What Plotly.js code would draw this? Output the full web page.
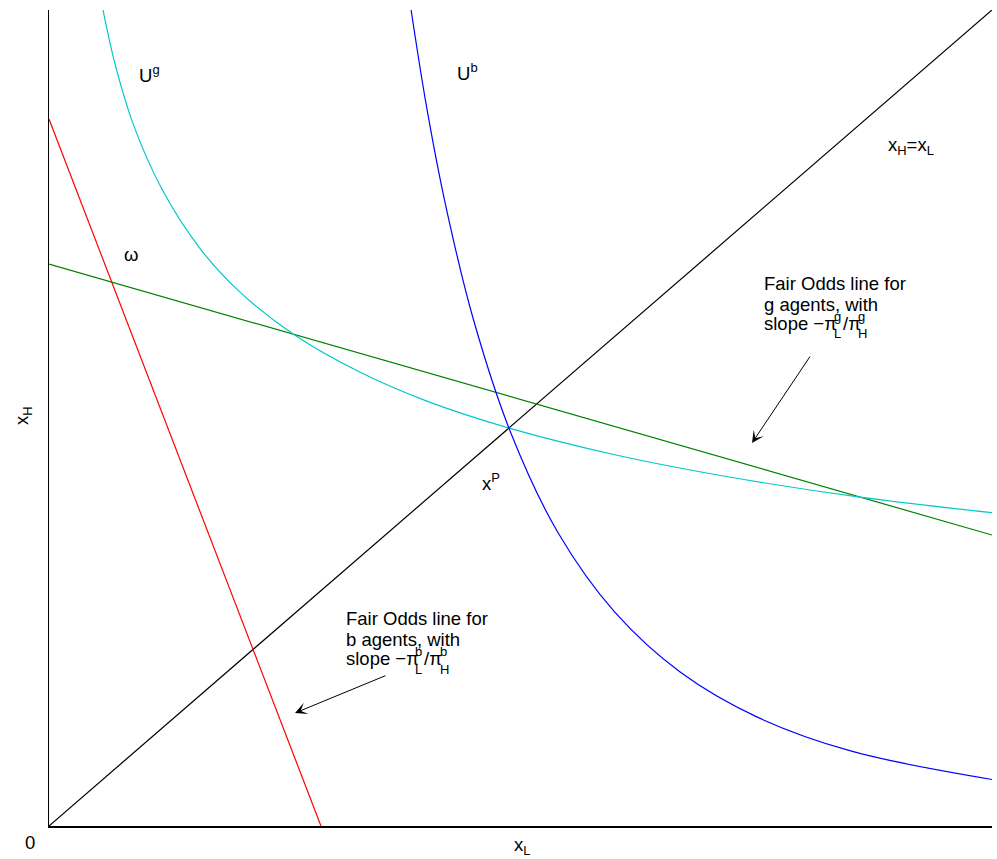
<!DOCTYPE html>
<html>
<head>
<meta charset="utf-8">
<script src="https://cdn.plot.ly/plotly-3.0.1.min.js"></script>
<style>html,body{margin:0;padding:0;background:#fff;}#chart{width:997px;height:859px;}</style>
</head>
<body>
<div id="chart"></div>
<script>
// ---- data (x_L on x, x_H on y, both 0..1) ----
var diagX = [0, 1];
var diagY = [0, 1];

var redX = [0, 0.2884];            // fair odds line for b agents
var redY = [0.8664, 0];

var greenX = [0, 1];               // fair odds line for g agents
var greenY = [0.6887, 0.3566];

var cyanX = [0.0573, 0.07, 0.09, 0.12, 0.16, 0.20, 0.26, 0.33, 0.40, 0.49, 0.60, 0.72, 0.86, 1.00];   // U^g
var cyanY = [1.000, 0.934, 0.858, 0.780, 0.708, 0.657, 0.602, 0.556, 0.521, 0.487, 0.455, 0.428, 0.403, 0.384];

var blueX = [0.384, 0.40, 0.42, 0.45, 0.49, 0.54, 0.60, 0.67, 0.75, 0.85, 1.00];   // U^b
var blueY = [1.000, 0.884, 0.764, 0.621, 0.481, 0.359, 0.262, 0.188, 0.134, 0.092, 0.057];

var FONT = '"Liberation Sans", Arial, Helvetica, sans-serif';
var FS = 18.5;
var FSS = 13;

function line(x, y, color) {
  return {x: x, y: y, type: 'scatter', mode: 'lines', hoverinfo: 'skip',
          line: {color: color, width: 1.2}, showlegend: false};
}
function curve(x, y, color) {
  return {x: x, y: y, type: 'scatter', mode: 'lines', hoverinfo: 'skip',
          line: {color: color, width: 1.2, shape: 'spline', smoothing: 1}, showlegend: false};
}

var traces = [
  line(diagX, diagY, '#000000'),
  line(redX, redY, '#ff0000'),
  line(greenX, greenY, '#008000'),
  curve(cyanX, cyanY, '#00c8c8'),
  curve(blueX, blueY, '#0000ff')
];

// pixel helpers for text placement (plot area 49..992 x 10..826)
function px(p) { return (p - 2 - 49) / 943; }
function py(p) { return (826 - p) / 816; }

function txt(text, x, y, opts) {
  var a = {text: text, x: x, y: y, xref: 'paper', yref: 'paper', showarrow: false,
           xanchor: 'left', yanchor: 'middle', font: {family: FONT, size: FS, color: '#000'}};
  if (opts) for (var k in opts) a[k] = opts[k];
  return a;
}
function small(text, x, y) {
  return txt(text, x, y, {font: {family: FONT, size: FSS, color: '#000'}});
}
function arrow(tipX, tipY, tailX, tailY) {
  return {x: tipX, y: tipY, ax: tailX, ay: tailY, xref: 'x', yref: 'y', axref: 'x', ayref: 'y',
          text: '', showarrow: true, arrowhead: 3, arrowsize: 2, arrowwidth: 1, arrowcolor: '#000', standoff: 0};
}

var annotations = [
  txt('U<sup>g</sup>', 0.0933, 0.9216),
  txt('U<sup>b</sup>', 0.4305, 0.924),
  txt('x<sub>H</sub>=x<sub>L</sub>', 0.8876, 0.8333),
  txt('ω', 0.0870, 0.6998, {xanchor: 'center'}),
  txt('x<sup>P</sup>', 0.4571, 0.4216),
  // g agents label
  txt('Fair Odds line for', px(764), py(283.3)),
  txt('g agents, with', px(764), py(304)),
  txt('slope −π', px(764), py(323.3)),
  small('L', px(834), py(333)),
  small('g', px(834), py(316)),
  txt('/π', px(843), py(323.3)),
  small('H', px(858), py(333)),
  small('g', px(858), py(316)),
  // b agents label
  txt('Fair Odds line for', px(346), py(618.3)),
  txt('b agents, with', px(346), py(639)),
  txt('slope −π', px(346), py(658)),
  small('L', px(415), py(669)),
  small('b', px(415), py(651.4)),
  txt('/π', px(424), py(658)),
  small('H', px(440), py(669)),
  small('b', px(440), py(651.4)),
  // axis labels
  txt('0', -0.0201, -0.0208, {xanchor: 'center'}),
  txt('x<sub>L</sub>', 0.5016, -0.0245, {xanchor: 'center'}),
  txt('x<sub>H</sub>', -0.0276, 0.5037, {xanchor: 'center', textangle: -90}),
  arrow(0.7455, 0.4694, 0.8081, 0.5772),
  arrow(0.2609, 0.1385, 0.3584, 0.1850)
];

var layout = {
  width: 997, height: 859,
  margin: {l: 49, r: 5, t: 10, b: 33, pad: 0},
  paper_bgcolor: '#ffffff', plot_bgcolor: '#ffffff',
  showlegend: false,
  xaxis: {range: [0, 1], showgrid: false, zeroline: false, showticklabels: false, ticks: '',
          showline: true, linecolor: '#000', linewidth: 1.5, mirror: false, fixedrange: true},
  yaxis: {range: [0, 1], showgrid: false, zeroline: false, showticklabels: false, ticks: '',
          showline: true, linecolor: '#000', linewidth: 1.5, mirror: false, fixedrange: true},
  font: {family: FONT, size: FS, color: '#000'},
  annotations: annotations
};

Plotly.newPlot('chart', traces, layout, {displayModeBar: false, staticPlot: true});
</script>
</body>
</html>
